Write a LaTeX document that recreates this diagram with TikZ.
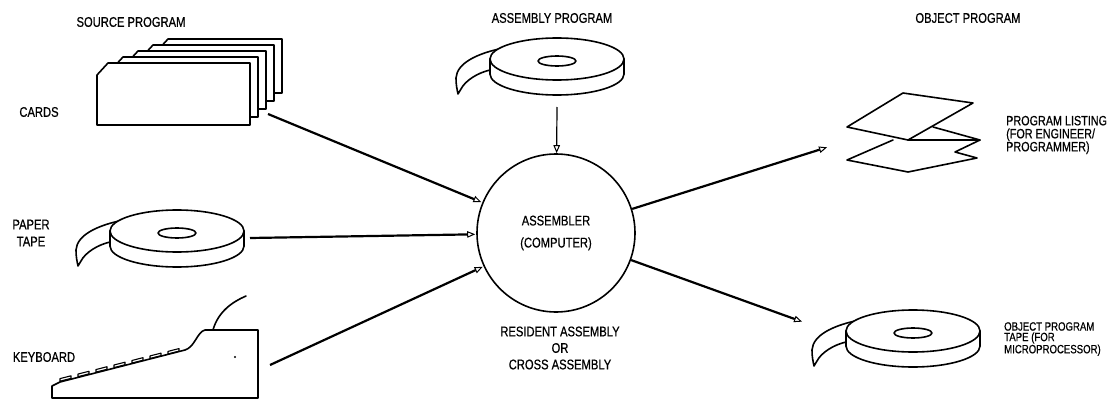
\documentclass[tikz,border=0pt]{standalone}
\usepackage{fontspec}
\setmainfont[FakeStretch=0.8, FakeBold=0.6]{Liberation Sans}
\usetikzlibrary{arrows.meta}
\begin{document}
\begin{tikzpicture}[x=1pt,y=-1pt,
  outline/.style={line width=1.6pt, line join=round, line cap=round},
  link/.style={line width=2.2pt, -{Triangle[open,length=8pt,width=6.5pt,line width=1pt]}, shorten >=1pt},
  feed/.style={line width=1.2pt, -{Triangle[open,length=8pt,width=6.5pt,line width=1pt]}},
  lbl/.style={font=\fontsize{14}{16}\selectfont, inner sep=0pt, align=center},
  note/.style={font=\fontsize{13.5}{13}\selectfont, inner sep=0pt, align=left, anchor=west},
  small/.style={font=\fontsize{12}{10.5}\selectfont, inner sep=0pt, align=left, anchor=west},
  reel/.pic={
    % paper strip unwinding from the reel
    \draw[outline, fill=white] (-58,-10) .. controls (-80,-5) and (-100,4) .. (-101,19)
        .. controls (-101,26) and (-100,30) .. (-99,35) -- (-96,30)
        .. controls (-92,22) and (-80,14) .. (-67,11) -- cycle;
    % reel body: lower rim, side wall, top face and hub
    \draw[outline, fill=white] (0,15) ellipse [x radius=67, y radius=21];
    \fill[white] (-67,0) rectangle (67,15);
    \draw[outline] (-67,0) -- (-67,15) (67,0) -- (67,15);
    \draw[outline, fill=white] (0,0) ellipse [x radius=67, y radius=21];
    \draw[outline] (0,2) ellipse [x radius=19, y radius=5];
  }
]
\useasboundingbox (0,0) rectangle (1117,404);

% ---- source program inputs ----
\node[lbl] (srcLbl) at (131,22) {SOURCE PROGRAM};

% deck of punched cards
\foreach \k in {4,3,2,1,0} {
  \pgfmathsetmacro\xa{97+15*\k}
  \pgfmathsetmacro\xb{250+8*\k}
  \pgfmathsetmacro\ya{63-6*\k}
  \pgfmathsetmacro\yb{125-8*\k}
  \draw[outline, fill=white] (\xa,\ya+12) -- (\xa+11,\ya) -- (\xb,\ya) -- (\xb,\yb) -- (\xa,\yb) -- cycle;
}
\node[lbl] (cardsLbl) at (39,112) {CARDS};
\coordinate (cardsOut) at (268,114);

% paper tape reel
\pic at (177,231) {reel};
\node[lbl, font=\fontsize{14}{17}\selectfont] (tapeLbl) at (31,233) {PAPER\\TAPE};
\coordinate (tapeOut) at (250,238);

% keyboard
\draw[outline, fill=white] (52,398) -- (52,386) -- (60,382) -- (185,350)
   .. controls (195,347) and (197,332) .. (205,330) -- (258,330) -- (258,398) -- cycle;
\foreach \i in {0,...,6} {
  \pgfmathsetmacro\kx{60+18*\i}
  \pgfmathsetmacro\ky{382-0.252*(\kx-60)-0.8}
  \draw[line width=1.1pt, line join=round] (\kx,\ky) -- ++(11,-2.8) -- ++(0,-2.6) -- ++(-11,2.8) -- cycle;
}
\draw[outline] (213,330) .. controls (218,312) and (232,302) .. (246,296);
\fill (235,357) circle (1.2pt);
\node[lbl] (kbdLbl) at (44,357) {KEYBOARD};
\coordinate (kbdOut) at (270,365);

% ---- assembler ----
\node[circle, draw, outline, minimum size=158pt, inner sep=0pt, align=center,
      font=\fontsize{14}{22}\selectfont] (asm) at (556,233) {ASSEMBLER\\(COMPUTER)};

\node[lbl] (asmProgLbl) at (552,18) {ASSEMBLY PROGRAM};
\pic at (557,59) {reel};
\coordinate (asmTapeOut) at (557,107);

\node[lbl, font=\fontsize{14}{16.5}\selectfont] (modeLbl) at (560,348) {RESIDENT ASSEMBLY\\OR\\CROSS ASSEMBLY};

% ---- object program outputs ----
\node[lbl] (objLbl) at (968,18) {OBJECT PROGRAM};

% fan-folded listing
\draw[outline] (893,140) -- (847,160) -- (908,172) -- (977,158) -- (955,152) -- (980,140);
\draw[outline] (908,140) -- (980,140) -- (933,127);
\draw[outline, fill=white] (847,127) -- (903,93) -- (973,103) -- (908,140) -- cycle;
\node[note] (listLbl) at (1006,135) {PROGRAM LISTING\\(FOR ENGINEER/\\PROGRAMMER)};
\coordinate (listIn) at (828,147);

% object tape reel
\pic at (913,331) {reel};
\node[small] (objTapeLbl) at (1004,339) {OBJECT PROGRAM\\TAPE (FOR\\MICROPROCESSOR)};
\coordinate (objIn) at (803,322);

% ---- flow ----
\draw[link] (cardsOut) -- (asm);
\draw[link] (tapeOut) -- (asm);
\draw[link] (kbdOut) -- (asm);
\draw[feed] (asmTapeOut) -- (asm);
\draw[link] (asm) -- (listIn);
\draw[link] (asm) -- (objIn);
\end{tikzpicture}
\end{document}
